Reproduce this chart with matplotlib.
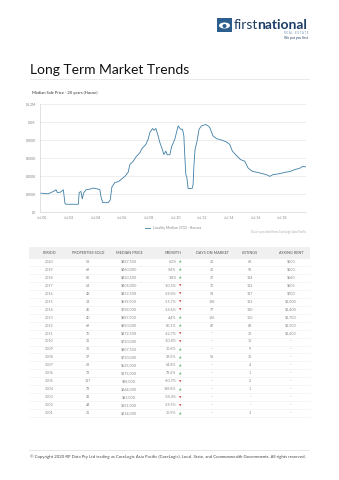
import numpy as np
import matplotlib.pyplot as plt
from matplotlib.patches import Rectangle, Ellipse

#%% Data

# Median sale price, 20 years (house)
years = [2000.35, 2000.97, 2001.35, 2001.55, 2001.65, 2001.90, 2002.10, 2002.22, 2002.30,
         2003.22, 2003.29, 2003.42, 2003.52, 2003.62, 2003.80, 2004.10, 2004.34, 2004.72,
         2004.84, 2004.92, 2005.05, 2005.47, 2005.62, 2005.74, 2005.97, 2006.22, 2006.47,
         2006.72, 2006.96, 2007.09, 2007.34, 2007.59, 2007.84, 2007.99, 2008.29, 2008.46,
         2008.59, 2008.79, 2008.91, 2009.04, 2009.21, 2009.34, 2009.51, 2009.64, 2009.79,
         2009.89, 2010.09, 2010.22, 2010.46, 2010.71, 2010.89, 2011.04, 2011.14, 2011.21,
         2011.29, 2011.36, 2011.46, 2011.76, 2011.83, 2011.89, 2011.98, 2012.13, 2012.28,
         2012.46, 2012.78, 2012.96, 2013.08, 2013.33, 2013.59, 2013.96, 2014.34, 2014.58,
         2014.78, 2015.08, 2015.38, 2015.71, 2015.95, 2016.28, 2016.83, 2017.33, 2017.58,
         2017.83, 2018.33, 2018.70, 2019.08, 2019.45, 2019.83, 2020.07, 2020.28]
median_k = [210, 202, 228, 247, 216, 221, 247, 98, 86,
            86, 216, 228, 146, 210, 247, 254, 266, 254,
            247, 172, 104, 104, 135, 277, 329, 336, 367,
            396, 441, 527, 564, 620, 658, 703, 751, 808,
            883, 928, 908, 928, 845, 771, 703, 639, 676,
            636, 636, 726, 808, 957, 920, 920, 845, 620,
            415, 389, 261, 261, 303, 508, 695, 788, 920,
            957, 972, 957, 939, 845, 815, 800, 777, 751,
            676, 628, 583, 564, 490, 452, 434, 415, 396,
            415, 426, 441, 449, 471, 486, 508, 501]

tick_years = [2000.5, 2002.5, 2004.5, 2006.5, 2008.5, 2010.5, 2012.5, 2014.5, 2016.5, 2018.5]
tick_labels = ["Jul 00", "Jul 02", "Jul 04", "Jul 06", "Jul 08",
               "Jul 10", "Jul 12", "Jul 14", "Jul 16", "Jul 18"]
y_ticks = [0, 200, 400, 600, 800, 1000, 1200]
y_labels = ["$0", "$200K", "$400K", "$600K", "$800K", "$1M", "$1.2M"]

# Table
headers = ["PERIOD", "PROPERTIES SOLD", "MEDIAN PRICE", "GROWTH",
           "DAYS ON MARKET", "LISTINGS", "ASKING RENT"]
period = ["2020", "2019", "2018", "2017", "2016", "2015", "2014", "2013", "2012", "2011",
          "2010", "2009", "2008", "2007", "2006", "2005", "2004", "2003", "2002", "2001"]
sold = ["58", "69", "86", "64", "48", "34", "45", "40", "69", "70",
        "31", "36", "57", "63", "73", "117", "78", "41", "44", "21"]
price = ["$487,500", "$460,000", "$420,500", "$405,000", "$452,500", "$639,500", "$758,000",
         "$887,500", "$850,000", "$472,500", "$720,000", "$807,500", "$730,000", "$525,000",
         "$175,000", "$98,000", "$264,000", "$83,000", "$151,000", "$214,000"]
growth = ["6.2%", "9.4%", "3.8%", "-10.5%", "-29.8%", "-15.7%", "-14.6%", "4.4%", "80.1%",
          "-42.7%", "-10.8%", "10.6%", "39.0%", "64.8%", "78.6%", "-60.7%", "198.8%",
          "-34.4%", "-29.5%", "10.9%"]
days = ["22", "22", "37", "70", "91", "128", "77", "126", "87", "--",
        "--", "--", "56", "--", "--", "--", "--", "--", "--", "--"]
listings = ["63", "91", "114", "112", "137", "163", "180", "150", "88", "30",
            "10", "9", "30", "4", "1", "2", "1", "-", "-", "3"]
rent = ["$500", "$500", "$560", "$505", "$700", "$1,000", "$1,400", "$1,700", "$1,500",
        "$1,600", "--", "--", "--", "--", "--", "--", "--", "--", "--", "--"]

#%% Figure

W, H = 339, 480
plt.rcParams['font.family'] = ['Lato', 'DejaVu Sans']
fig = plt.figure(figsize=(W / 100, H / 100), dpi=100)
fig.patch.set_facecolor('white')

# overlay in pixel coordinates for the page layout
pg = fig.add_axes([0, 0, 1, 1])
pg.set_xlim(0, W)
pg.set_ylim(H, 0)
pg.axis('off')

navy = '#1d3e66'
# logo
pg.add_patch(Rectangle((217, 18), 15, 14, facecolor='#2c5f8e', edgecolor='none'))
pg.add_patch(Ellipse((224.5, 25.5), 11, 6, facecolor='white', edgecolor='none'))
pg.add_patch(Ellipse((224.5, 26), 4, 4, facecolor='#2c5f8e', edgecolor='none'))
pg.text(234, 25, "first", fontsize=10, color=navy, va='center', ha='left')
pg.text(257, 25, "national", fontsize=10, color=navy, va='center', ha='left',
        fontweight='bold')
pg.text(308, 33, "R E A L   E S T A T E", fontsize=2, color='#6a8bb0', ha='right', va='center')
pg.text(308, 38.5, "We put you first", fontsize=2.3, color=navy, ha='right', va='center')

# title
pg.text(30, 70, "Long Term Market Trends", fontsize=10, color='#111111', ha='left',
        va='center')
pg.plot([30, 309], [79, 79], color='#e6e6e6', lw=0.6)
pg.text(32, 93, "Median Sale Price - 20 years (House)", fontsize=3, color='#333333',
        ha='left', va='center')

pg.text(306, 232, "Data is provided from CoreLogic Asia Pacific", fontsize=2, color='#aaaaaa',
        ha='right', va='center')

#%% Chart

ax = fig.add_axes([40 / W, 1 - 212 / H, 266 / W, 108 / H])
ax.plot(years, median_k, color='#3f7ea6', lw=0.6, label="Locality Median 3730 - Houses")
ax.set_xlim(2000.35, 2020.3)
ax.set_ylim(0, 1200)
ax.set_yticks(y_ticks)
ax.set_yticklabels(y_labels)
ax.set_xticks(tick_years)
ax.set_xticklabels(tick_labels)
ax.tick_params(labelsize=2.5, colors='#888888', length=0, pad=3)
ax.grid(axis='y', color='#e8e8e8', lw=0.5)
ax.set_axisbelow(True)
for s in ['top', 'right']:
    ax.spines[s].set_visible(False)
ax.spines['left'].set_color('#cccccc')
ax.spines['bottom'].set_color('#cccccc')
ax.spines['left'].set_linewidth(0.4)
ax.spines['bottom'].set_linewidth(0.4)
ax.legend(loc='upper center', bbox_to_anchor=(0.5, -0.1), frameon=False, fontsize=2.5,
          handlelength=1.5, labelcolor='#888888')

#%% Table

cols_x = [49, 88, 129, 173, 212, 250, 291]
pg.add_patch(Rectangle((29, 247), 281, 12, facecolor='#f0f0f0', edgecolor='none'))
for x, h in zip(cols_x, headers):
    pg.text(x, 253, h, fontsize=2.7, color='#555555', ha='center', va='center')

row_y0, row_dy = 261.7, 7.98
for i in range(len(period)):
    y = row_y0 + i * row_dy
    pg.text(cols_x[0], y, period[i], fontsize=2.7, color='#888888', ha='center', va='center')
    pg.text(cols_x[1], y, sold[i], fontsize=2.7, color='#888888', ha='center', va='center')
    pg.text(cols_x[2], y, price[i], fontsize=2.7, color='#888888', ha='center', va='center')
    pg.text(176.5, y, growth[i], fontsize=2.7, color='#888888', ha='right', va='center')
    up = not growth[i].startswith('-')
    pg.text(180.5, y, "\u25B2" if up else "\u25BC", fontsize=2.3,
            color='#5cb85c' if up else '#d9534f', ha='center', va='center',
            family='DejaVu Sans')
    pg.text(cols_x[4], y, days[i], fontsize=2.7, color='#888888', ha='center', va='center')
    pg.text(cols_x[5], y, listings[i], fontsize=2.7, color='#888888', ha='center', va='center')
    pg.text(cols_x[6], y, rent[i], fontsize=2.7, color='#888888', ha='center', va='center')
    pg.plot([29, 310], [y + 4, y + 4], color='#eeeeee', lw=0.4)

#%% Footer

pg.plot([29, 309], [450, 450], color='#dddddd', lw=0.5)
pg.text(30, 456.5, "\u00A9 Copyright 2020 RP Data Pty Ltd trading as CoreLogic Asia Pacific "
        "(CoreLogic), Local, State, and Commonwealth Governments. All rights reserved.",
        fontsize=3.05, color='#444444', ha='left', va='center')

fig.savefig("out.png", dpi=100, facecolor='white')
